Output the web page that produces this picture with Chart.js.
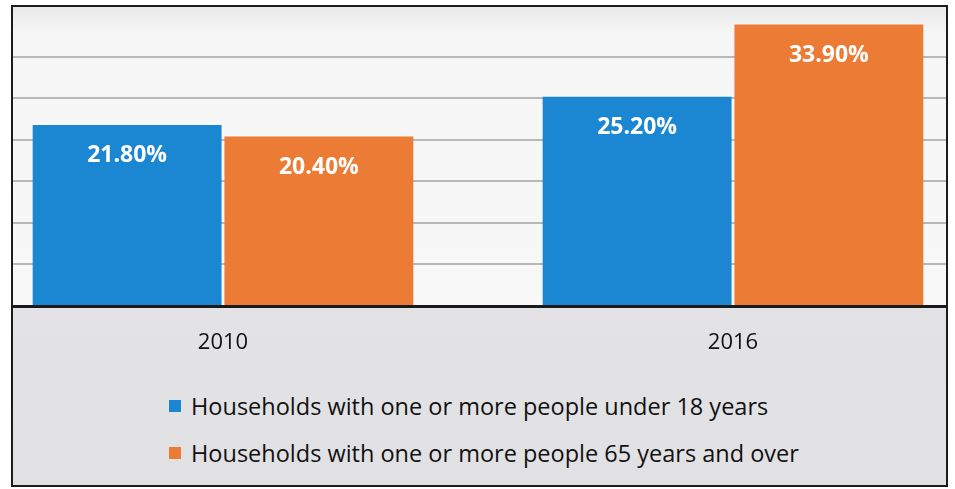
<!DOCTYPE html>
<html>
<head>
<meta charset="utf-8">
<title>Households by age group, 2010 and 2016</title>
<script src="https://cdn.jsdelivr.net/npm/chart.js@4/dist/chart.umd.min.js"></script>
<style>
  html, body { margin: 0; padding: 0; background: #ffffff; }
  body { width: 955px; height: 489px; position: relative; overflow: hidden; font-family: 'Open Sans', sans-serif; }
  #frame {
    position: absolute; left: 11px; top: 5px;
    width: 933px; height: 478px;
    border: 2px solid #1c1c1c;
    background: linear-gradient(to bottom, #e6e6e9 0%, #e1e1e4 100%);
  }
  #plot-bg {
    position: absolute; left: 0; top: 0; width: 100%; height: 299px;
    background: linear-gradient(to bottom, #e9e9e9 0px, #f6f6f6 26px, #f8f8f8 100%);
  }
  #clip { position: absolute; left: 0; top: 0; width: 100%; height: 100%; overflow: hidden; }
  #chart { position: absolute; left: -60px; top: 0; }
  #legend {
    position: absolute; left: 156px; top: 375px;
    margin: 0; padding: 0; list-style: none;
  }
  #legend li {
    display: flex; align-items: center; height: 47px;
    font-size: 23.5px; color: #111111; white-space: nowrap;
  }
  #legend .swatch { width: 12px; height: 12px; margin-right: 10px; flex: none; }
</style>
</head>
<body>
<div id="frame">
  <div id="plot-bg"></div>
  <div id="clip">
    <canvas id="chart" width="1080" height="360"></canvas>
  </div>
  <ul id="legend"></ul>
</div>
<script>
// Share of households (%), by year
const years = ['2010', '2016'];
const under18 = [21.8, 25.2];
const over65 = [20.4, 33.9];
const seriesNames = [
  'Households with one or more people under 18 years',
  'Households with one or more people 65 years and over',
];
const seriesColors = ['#1b86d1', '#ec7b36'];

// gridline every 5 points up to 30, axis itself is not labelled
const yMax = 36;
const yStep = 5;
const yLastGrid = 30;

// white percentage printed inside the top of each bar
const barValueLabels = {
  id: 'barValueLabels',
  afterDatasetsDraw(chart) {
    const ctx = chart.ctx;
    ctx.save();
    ctx.fillStyle = '#ffffff';
    ctx.font = 'bold 23px "Open Sans", sans-serif';
    ctx.textAlign = 'center';
    ctx.textBaseline = 'middle';
    chart.data.datasets.forEach((ds, i) => {
      chart.getDatasetMeta(i).data.forEach((bar, j) => {
        ctx.fillText(ds.data[j].toFixed(2) + '%', bar.x, bar.y + 31);
      });
    });
    ctx.restore();
  },
};

const chart = new Chart(document.getElementById('chart'), {
  type: 'bar',
  data: {
    labels: years,
    datasets: [
      { label: seriesNames[0], data: under18, backgroundColor: seriesColors[0] },
      { label: seriesNames[1], data: over65, backgroundColor: seriesColors[1] },
    ],
  },
  options: {
    responsive: false,
    animation: false,
    layout: { padding: { left: 15, right: 45, top: 0, bottom: 0 } },
    datasets: {
      bar: { categoryPercentage: 0.752, barPercentage: 0.985 },
    },
    scales: {
      x: {
        grid: { display: false, drawTicks: false },
        border: { display: true, color: '#1a1a1a', width: 3 },
        ticks: {
          color: '#111111',
          padding: 24,
          font: { family: 'Open Sans', size: 22 },
        },
        afterFit(scale) { scale.height = 61; },
      },
      y: {
        min: 0,
        max: yMax,
        ticks: { display: false, stepSize: yStep },
        grid: {
          color: c => (c.tick && c.tick.value > yLastGrid ? 'rgba(0,0,0,0)' : '#b8b8ba'),
          lineWidth: 2,
          drawTicks: false,
        },
        border: { display: false },
        afterFit(scale) { scale.width = 0; },
      },
    },
    plugins: {
      legend: { display: false },
      tooltip: { enabled: false },
    },
  },
  plugins: [barValueLabels],
});

// legend below the axis, built from the datasets
const legendEl = document.getElementById('legend');
chart.data.datasets.forEach(ds => {
  const li = document.createElement('li');
  const sw = document.createElement('span');
  sw.className = 'swatch';
  sw.style.background = ds.backgroundColor;
  li.appendChild(sw);
  li.appendChild(document.createTextNode(ds.label));
  legendEl.appendChild(li);
});
</script>
</body>
</html>
